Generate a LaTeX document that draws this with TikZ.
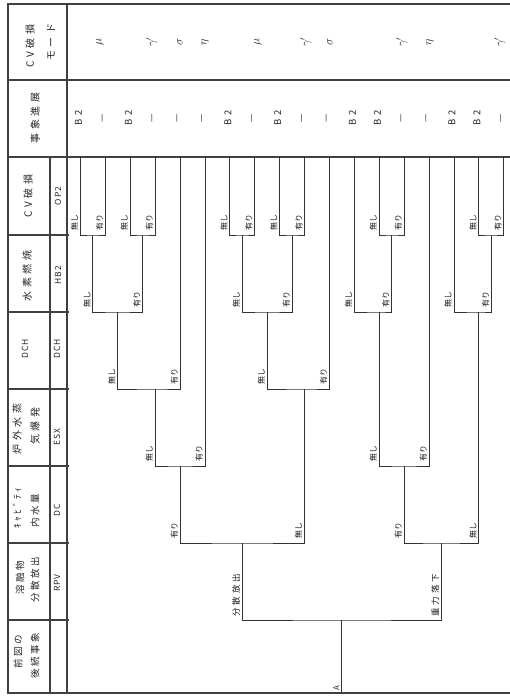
\documentclass[tikz,border=0pt]{standalone}
\usepackage{fontspec}
\newfontfamily\jp{Noto Sans CJK JP}
\newfontfamily\jpw[LetterSpace=36]{Noto Sans CJK JP}
\newfontfamily\jpv[LetterSpace=26]{Noto Sans CJK JP}
\newfontfamily\jpc[LetterSpace=12]{Noto Sans CJK JP}
\begin{document}
\begin{tikzpicture}[x=1pt,y=-1pt,
  frame/.style={draw=black!75,line width=1.3pt},
  ln/.style={draw=black!80,line width=1pt},
  lab/.style={rotate=90,anchor=south west,inner sep=0pt,text=black!90,font=\jp\fontsize{8}{9}\selectfont},
  rlab/.style={rotate=90,anchor=south west,inner sep=0pt,text=black!90,font=\jpw\fontsize{8.5}{9}\selectfont},
  hd/.style={rotate=90,inner sep=0pt,text=black!85,font=\jpw\fontsize{10}{11}\selectfont},
  hds/.style={rotate=90,inner sep=0pt,text=black!85,font=\jpv\fontsize{9.5}{10}\selectfont},
  code/.style={rotate=90,inner sep=0pt,text=black!85,font=\jpc\fontsize{8.5}{9}\selectfont},
  prog/.style={rotate=90,inner sep=0pt,text=black!85,font=\jpw\fontsize{9.5}{10}\selectfont},
  mode/.style={rotate=90,inner sep=0pt,text=black!85,font=\fontsize{12}{14}\selectfont}]
\useasboundingbox (0,0) rectangle (510,697);
% frame
\draw[frame] (510,4) -- (8,4) -- (8,693) -- (510,693);
\draw[frame] (8,80) -- (510,80);
\draw[frame] (8,157) -- (510,157);
\draw[frame] (67,4) -- (67,693);
\draw[frame] (50,157) -- (50,693);
\foreach \yy in {235,312,389,466,543,620} \draw[frame] (8,\yy) -- (69,\yy);
% header texts
\node[hd] (h1a) at (30,46) {CV破損};
\node[hd] (h1b) at (51,42) {モード};
\node[hd] (h2) at (35,118) {事象進展};
\node[hd] (h3) at (28,196) {CV破損};
\node[code] (c3) at (58,196) {OP2};
\node[hd] (h4) at (27,276) {水素燃焼};
\node[code] (c4) at (58,275) {HB2};
\node[code] (h5) at (25,349) {DCH};
\node[code] (c5) at (57,349) {DCH};
\node[hd] (h6a) at (17,429) {炉外水蒸};
\node[hd] (h6b) at (35,426) {気爆発};
\node[code] (c6) at (57,437) {ESX};
\node[hds] (h7a) at (17,508) {ｷｬﾋﾞﾃｨ};
\node[hds] (h7b) at (35,511) {内水量};
\node[code] (c7) at (57,510) {DC};
\node[hds] (h8a) at (20,578) {溶融物};
\node[hds] (h8b) at (35,580) {分散放出};
\node[code] (c8) at (57,583) {RPV};
\node[hds] (h9a) at (18,652) {前図の};
\node[hds] (h9b) at (35,656) {後続事象};
% leaves
\foreach \i in {0,...,17} \coordinate (t\i) at ({80.5+24.9*\i},157);
% junctions
\coordinate (a1) at (92.95,235);
\coordinate (a2) at (142.75,235);
\coordinate (a3) at (242.35,235);
\coordinate (a4) at (292.15,235);
\coordinate (a5) at (391.75,235);
\coordinate (a6) at (491.35,235);
\coordinate (b1) at (117.85,312);
\coordinate (b2) at (267.25,312);
\coordinate (b3) at (379.3,312);
\coordinate (b4) at (478.9,312);
\coordinate (c1) at (155.2,389);
\coordinate (c2) at (304.6,389);
\coordinate (d1) at (180.1,466);
\coordinate (d2) at (404.2,466);
\coordinate (e1) at (242.35,543);
\coordinate (e2) at (441.55,543);
\coordinate (f) at (341.95,620);
\coordinate (root) at (341.95,693);
% tree
\draw[ln] (t0) |- (a1) -| (t1);
\draw[ln] (t2) |- (a2) -| (t3);
\draw[ln] (a1) |- (b1) -| (a2);
\draw[ln] (b1) |- (c1) -| (t4);
\draw[ln] (c1) |- (d1) -| (t5);
\draw[ln] (t6) |- (a3) -| (t7);
\draw[ln] (t8) |- (a4) -| (t9);
\draw[ln] (a3) |- (b2) -| (a4);
\draw[ln] (b2) |- (c2) -| (t10);
\draw[ln] (d1) |- (e1) -| (c2);
\draw[ln] (t12) |- (a5) -| (t13);
\draw[ln] (t11) |- (b3) -| (a5);
\draw[ln] (b3) |- (d2) -| (t14);
\draw[ln] (t16) |- (a6) -| (t17);
\draw[ln] (t15) |- (b4) -| (a6);
\draw[ln] (d2) |- (e2) -| (b4);
\draw[ln] (e1) |- (f) -| (e2);
\draw[ln] (f) -- (root);
% branch labels
\foreach \xx/\yy/\tt [count=\n] in {
 80.5/235/無し,130.3/235/無し,229.9/235/無し,279.7/235/無し,379.3/235/無し,478.9/235/無し,
 105.4/235/有り,155.2/235/有り,254.8/235/有り,304.6/235/有り,404.2/235/有り,503.8/235/有り,
 92.95/312/無し,242.35/312/無し,354.4/312/無し,454.0/312/無し,
 142.75/312/有り,292.15/312/有り,391.75/312/有り,491.35/312/有り,
 117.85/389/無し,267.25/389/無し,180.1/389/有り,329.5/389/有り,
 155.2/466/無し,379.3/466/無し,205.0/466/有り,429.1/466/有り,
 180.1/543/有り,404.2/543/有り,304.6/543/無し,478.9/543/無し}
 \node[lab] (bl\n) at (\xx-2,\yy-4) {\tt};
\node[rlab] (r1) at (240.35,617) {分散放出};
\node[rlab] (r2) at (439.55,617) {重力落下};
\node[rotate=90,anchor=south west,inner sep=0pt,text=black!85,font=\jp\fontsize{8}{9}\selectfont] (A) at (339.5,691) {A};
% event progression
\foreach \k/\tt [count=\n] in {0/B2,1/—,2/B2,3/—,4/—,5/—,6/B2,7/—,8/B2,9/—,10/—,11/B2,12/B2,13/—,14/—,15/B2,16/B2,17/—}
 \node[prog] (p\n) at ({78.5+24.9*\k},118) {\tt};
% CV failure modes
\foreach \xx/\mm [count=\n] in {100/\mu,152/\gamma',180/\sigma,205/\eta,258/\mu,306/\gamma',330/\sigma,402/\gamma',430/\eta,500/\gamma'}
 \node[mode] (m\n) at (\xx,42) {$\mm$};
\end{tikzpicture}
\end{document}
